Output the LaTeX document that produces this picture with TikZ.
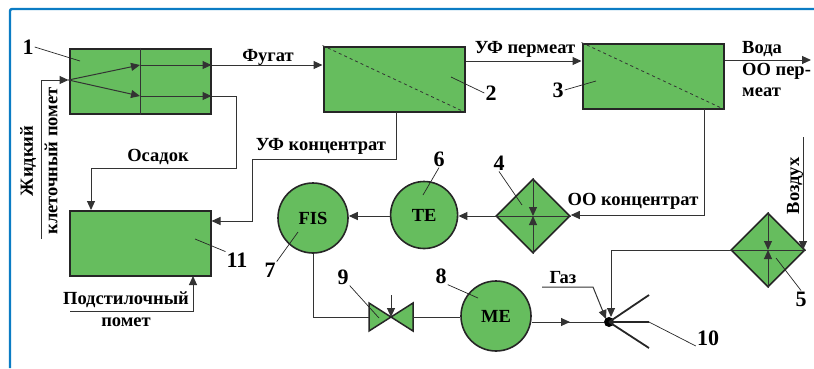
\documentclass[tikz,border=0pt]{standalone}
\usepackage{fontspec}
\setmainfont{Liberation Serif}
\usepackage{xcolor}
\usetikzlibrary{shapes.geometric,arrows.meta,positioning,calc}
\definecolor{unitgreen}{HTML}{66BD5E}
\definecolor{framecol}{HTML}{0B7CC4}
\definecolor{linecol}{HTML}{333333}
\begin{document}
\begin{tikzpicture}[x=1pt, y=-1pt, >={Triangle[length=9pt,width=8pt]},
  every node/.style={font=\fontsize{18.5}{20}\selectfont\bfseries, inner sep=1pt, align=center},
  unit/.style={rectangle, draw=black!85, fill=unitgreen, line width=2pt, minimum width=141pt, minimum height=65pt, inner sep=0pt},
  round/.style={circle, draw=black!85, fill=unitgreen, line width=1.6pt, inner sep=0pt},
  rhomb/.style={diamond, draw=black!85, fill=unitgreen, line width=1.6pt, minimum size=74pt, inner sep=0pt},
  num/.style={font=\fontsize{22}{24}\selectfont\bfseries},
  flow/.style={draw=linecol, line width=1pt},
  leader/.style={draw=black!85, line width=0.7pt}]

\useasboundingbox (0,0) rectangle (814,368);
\draw[framecol, line width=2.4pt, rounded corners=2pt] (10,368) -- (10,9) -- (814,9);

\node (sep) [unit] at (140,81) {};
\node (uf) [unit, right=111pt of sep, yshift=2pt] {};
\node (ro) [unit, right=116pt of uf, yshift=3pt] {};
\node (bed) [unit, below=95pt of sep] {};
\node (fis) [round, minimum size=70pt] at (313,218) {FIS};
\node (te) [round, minimum size=67pt, right=41pt of fis, yshift=3pt] {TE};
\node (cool) [rhomb] at (533,216) {};
\node (heat) [rhomb] at (768,250) {};
\node (me) [round, minimum size=70pt] at (496,316) {ME};
\node (burner) [circle, fill=black, minimum size=10pt, inner sep=0pt] at (609,322) {};

\node (n1) [num] at (28,47) {1};
\node (n2) [num] at (491,93) {2};
\node (n3) [num] at (558,90) {3};
\node (n4) [num] at (499,163) {4};
\node (n5) [num] at (801,299) {5};
\node (n6) [num] at (439,159) {6};
\node (n7) [num] at (270,270) {7};
\node (n8) [num] at (441,276) {8};
\node (n9) [num] at (343,277) {9};
\node (n10) [num] at (708,338) {10};
\node (n11) [num] at (237,260) {11};

\node (fugat) at (268,57) {Фугат};
\node (ufperm) at (525,49) {УФ пермеат};
\node (water) [anchor=west] at (741,49) {Вода};
\node (roperm) [anchor=west] at (741,71) {ОО пер-};
\node (roperm2) [anchor=west] at (741,92) {меат};
\node (sediment) at (158,157) {Осадок};
\node (ufconc) at (321,146) {УФ концентрат};
\node (roconc) at (633,201) {ОО концентрат};
\node (air) [rotate=90] at (795,186) {Воздух};
\node (gas) at (563,278) {Газ};
\node (litter) at (126,300) {Подстилочный};
\node (litter2) at (126,322) {помет};
\node (feed) [rotate=90] at (28,161) {Жидкий};
\node (feed2) [rotate=90] at (51,161) {клеточный помет};

\coordinate (feedstart) at (41,239);
\coordinate (feedin) at (sep.west |- 0,80);
\coordinate (mid1) at (140,65);
\coordinate (mid2) at (140,96);
\coordinate (out1) at (sep.east |- 0,65);
\coordinate (out2) at (sep.east |- 0,96);
\coordinate (sedbend) at (236,168);
\coordinate (sedin) at (91,210);
\coordinate (concin) at (bed.east |- 0,221);
\coordinate (concstart) at (396,112);
\coordinate (concbend) at (252,159);
\coordinate (rotap) at (704,109);
\coordinate (valve) at (391,317);
\coordinate (valveL) at (369,317);
\coordinate (valveR) at (413,317);
\coordinate (tipA) at (649,295);
\coordinate (tipB) at (649,322);
\coordinate (tipC) at (649,348);

\draw[flow] (sep.north) -- (sep.south);
\draw[flow, line width=0.8pt, dashed] (uf.north west) -- (uf.south east);
\draw[flow, line width=0.8pt, dashed] (ro.north west) -- (ro.south east);
\draw[flow] (cool.west) -- (cool.east);
\draw[flow] (heat.west) -- (heat.east);
\draw[flow, ->] (cool.north) -- (cool.center);
\draw[flow, ->] (cool.south) -- (cool.center);
\draw[flow, ->] (heat.north) -- (heat.center);
\draw[flow, ->] (heat.south) -- (heat.center);
\draw[black!85, fill=unitgreen, line width=1.5pt] ($(valve)+(-22,-14)$) -- ($(valve)+(22,14)$) -- ($(valve)+(22,-14)$) -- ($(valve)+(-22,14)$) -- cycle;
\draw[flow, ->] ($(valve)+(0,-22)$) -- (valve);

\draw[flow, ->] (feedstart) |- (feedin);
\draw[flow, ->] (feedin) -- (mid1);
\draw[flow, ->] (feedin) -- (mid2);
\draw[flow, ->] (mid1) -- (out1);
\draw[flow, ->] (mid2) -- (out2);
\draw[flow, ->] (out1) -- (uf.west |- out1);
\draw[flow, ->] (out2) -| (sedbend) -| (sedin);
\draw[flow, ->] (concstart) |- (concbend) |- (concin);
\draw[flow, ->] (uf.east |- 0,61) -- (ro.west |- 0,61);
\draw[flow, ->] (ro.east |- 0,60) -- (811,60);
\draw[flow, ->] (rotap) |- (cool.east |- 0,215);
\draw[flow, ->] (cool.west) -- (te.east |- cool.west);
\draw[flow, ->] (te.west |- 0,216) -- (fis.east |- 0,216);
\draw[flow] (fis.south) |- (valveL);
\draw[flow] (valveR) -- (me.west |- valveR);
\draw[flow] (me.east |- 0,322) -- (burner);
\draw[flow, ->] (me.east |- 0,322) -- (570,322);
\draw[flow, ->] (803,137) -- (heat.east -| 803,0);
\draw[flow, ->] (heat.west) -| (611,317);
\draw[flow, ->] (542,287) -- (593,287) -- (606,319);
\draw[flow, ->] (70,311) -| (193,276);

\draw[black!85, line width=1.8pt] (burner.center) -- (tipA);
\draw[black!85, line width=1.8pt] (burner.center) -- (tipB);
\draw[black!85, line width=1.8pt] (burner.center) -- (tipC);

\draw[leader] (n1.east) -- (80,61);
\draw[leader] (n2.west) -- (451,77);
\draw[leader] (n3.east) -- (596,81);
\draw[leader] (n4.south) -- (522,205);
\draw[leader] (n5.north) -- (776,258);
\draw[leader] (n6.south) -- (423,195);
\draw[leader] (n7.north east) -- (298,232);
\draw[leader] (n8.south east) -- (478,298);
\draw[leader] (n9.south east) -- (379,318);
\draw[leader] (tipB) -- (n10.west |- 0,346);
\draw[leader] (n11.north west) -- (195,239);

\end{tikzpicture}
\end{document}
